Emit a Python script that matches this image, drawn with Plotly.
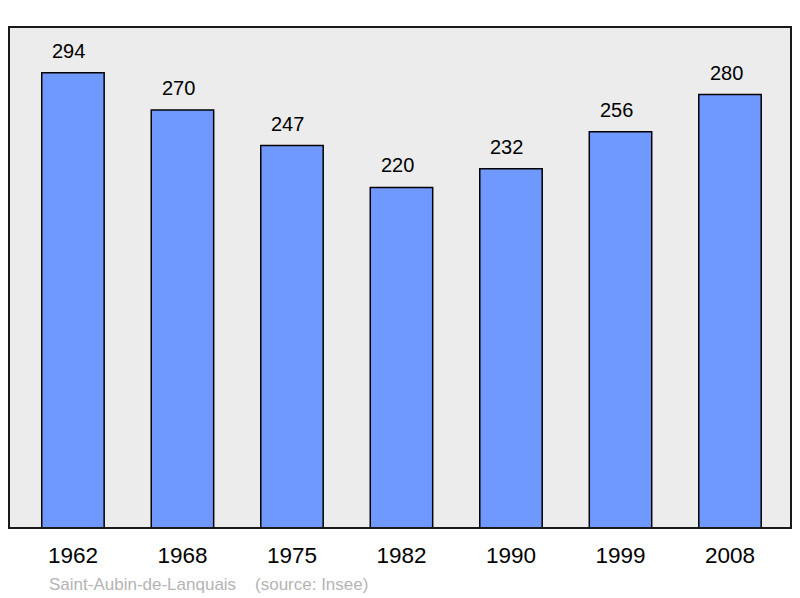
import plotly.graph_objects as go

years = ['1962', '1968', '1975', '1982', '1990', '1999', '2008']
population = [294, 270, 247, 220, 232, 256, 280]
commune = 'Saint-Aubin-de-Lanquais'
source = '(source: Insee)'

fig = go.Figure(go.Bar(
    x=years, y=population, width=0.57,
    marker=dict(color='#7099ff', line=dict(color='black', width=1.5)),
    hoverinfo='skip'))

# value labels above the bars (category index as x)
for i, v in enumerate(population):
    fig.add_annotation(x=i, y=v, text=str(v), showarrow=False, yanchor='bottom', yshift=9, xshift=-4,
                       font=dict(family='Liberation Sans, Arial', size=20, color='black'))

fig.add_annotation(xref='paper', yref='paper', x=0.049, y=-0.112, xanchor='left', yanchor='middle',
                   text=commune + '    ' + source, showarrow=False,
                   font=dict(family='Liberation Sans, Arial', size=17, color='#b4b4b4'))

fig.add_shape(type='rect', xref='paper', yref='paper', x0=0, y0=0, x1=1, y1=1,
              line=dict(color='#1a1a1a', width=2), layer='above')

fig.update_layout(
    width=784, height=590,
    margin=dict(l=1, r=1, t=19, b=70),
    paper_bgcolor='white', plot_bgcolor='#ececec',
    showlegend=False,
    font=dict(family='Liberation Sans, Arial', color='black'),
    xaxis=dict(type='category', range=[-0.584, 6.557], showgrid=False, zeroline=False, ticks='outside',
               ticklen=7, tickcolor='rgba(0,0,0,0)', tickfont=dict(size=22.5), fixedrange=True),
    yaxis=dict(range=[0, 323.6], showgrid=False, zeroline=False, showticklabels=False, fixedrange=True),
)

fig.write_html('out.html')
